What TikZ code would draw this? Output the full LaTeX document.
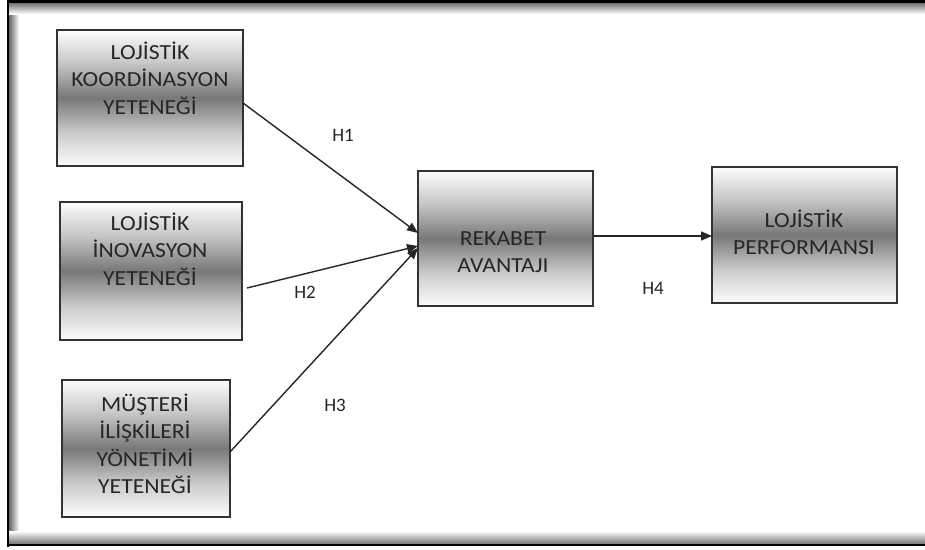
\documentclass[tikz,border=0pt]{standalone}
\usepackage{fontspec}
\setmainfont{Carlito}
\newfontfamily\boxfont[FakeStretch=1.1]{Carlito}
\usetikzlibrary{arrows.meta}
\pgfdeclareverticalshading{boxgrad}{100bp}{rgb(0bp)=(1,1,1); rgb(25bp)=(0.99,0.99,0.99); rgb(37bp)=(0.8,0.8,0.8); rgb(50bp)=(0.47,0.47,0.47); rgb(63bp)=(0.78,0.78,0.78); rgb(75bp)=(0.99,0.99,0.99); rgb(100bp)=(1,1,1)}
\begin{document}
\begin{tikzpicture}[x=1pt,y=-1pt,
  box/.style={draw=black!80, line width=1.6pt, shading=boxgrad, inner sep=0pt, outer sep=0pt},
  lbl/.style={font=\boxfont\fontsize{21.5}{27.5}\selectfont, align=center, text=black!85, inner sep=0pt},
  hlab/.style={font=\fontsize{19}{23}\selectfont, text=black!85, inner sep=0pt},
  arr/.style={-{Triangle[length=11pt,width=9pt]}, line width=1.4pt, draw=black!85}]
\useasboundingbox (0,0) rectangle (925,549);
\fill[white] (0,0) rectangle (925,549);
% frame shadows
\fill[left color=black!60, right color=white] (9,3) rectangle (19,544);
\fill[top color=black!55, bottom color=white] (9,3) rectangle (925,14);
\fill[bottom color=black!55, top color=white] (9,531) rectangle (925,544);
\draw[line width=2.5pt, black] (8,0) -- (8,546.5);
\draw[line width=3.2pt, black] (8,1.6) -- (925,1.6);
\draw[line width=2.5pt, black] (8,545.2) -- (925,545.2);
% boxes
\node[box, minimum width=186pt, minimum height=136pt] (b1) at (150,98) {};
\node[box, minimum width=182pt, minimum height=138pt] (b2) at (151,271) {};
\node[box, minimum width=168pt, minimum height=137pt] (b3) at (146,448.5) {};
\node[box, minimum width=175pt, minimum height=135pt] (b4) at (505.5,238.5) {};
\node[box, minimum width=185pt, minimum height=136pt] (b5) at (804.5,235) {};
% texts
\node[lbl] (t1) at (150,78) {LOJİSTİK\\KOORDİNASYON\\YETENEĞİ};
\node[lbl] (t2) at (150,249) {LOJİSTİK\\İNOVASYON\\YETENEĞİ};
\node[lbl] (t3) at (145,444) {MÜŞTERİ\\İLİŞKİLERİ\\YÖNETİMİ\\YETENEĞİ};
\node[lbl] (t4) at (503,252) {REKABET\\AVANTAJI};
\node[lbl] (t5) at (804,232.5) {LOJİSTİK\\PERFORMANSI};
% connectors
\draw[arr] ([yshift=-5pt]b1.east) -- ([yshift=5.5pt]b4.west);
\draw[arr] ([xshift=5pt,yshift=-17pt]b2.east) -- ([yshift=-7.5pt]b4.west);
\draw[arr] ([yshift=-3.5pt]b3.east) -- ([yshift=-9.5pt]b4.west);
\draw[arr] ([yshift=2.5pt]b4.east) -- ([yshift=-1pt]b5.west);
% labels
\node[hlab] (h1) at (343,135) {H1};
\node[hlab] (h2) at (305,292) {H2};
\node[hlab] (h3) at (335,405) {H3};
\node[hlab] (h4) at (653,288) {H4};
\end{tikzpicture}
\end{document}
